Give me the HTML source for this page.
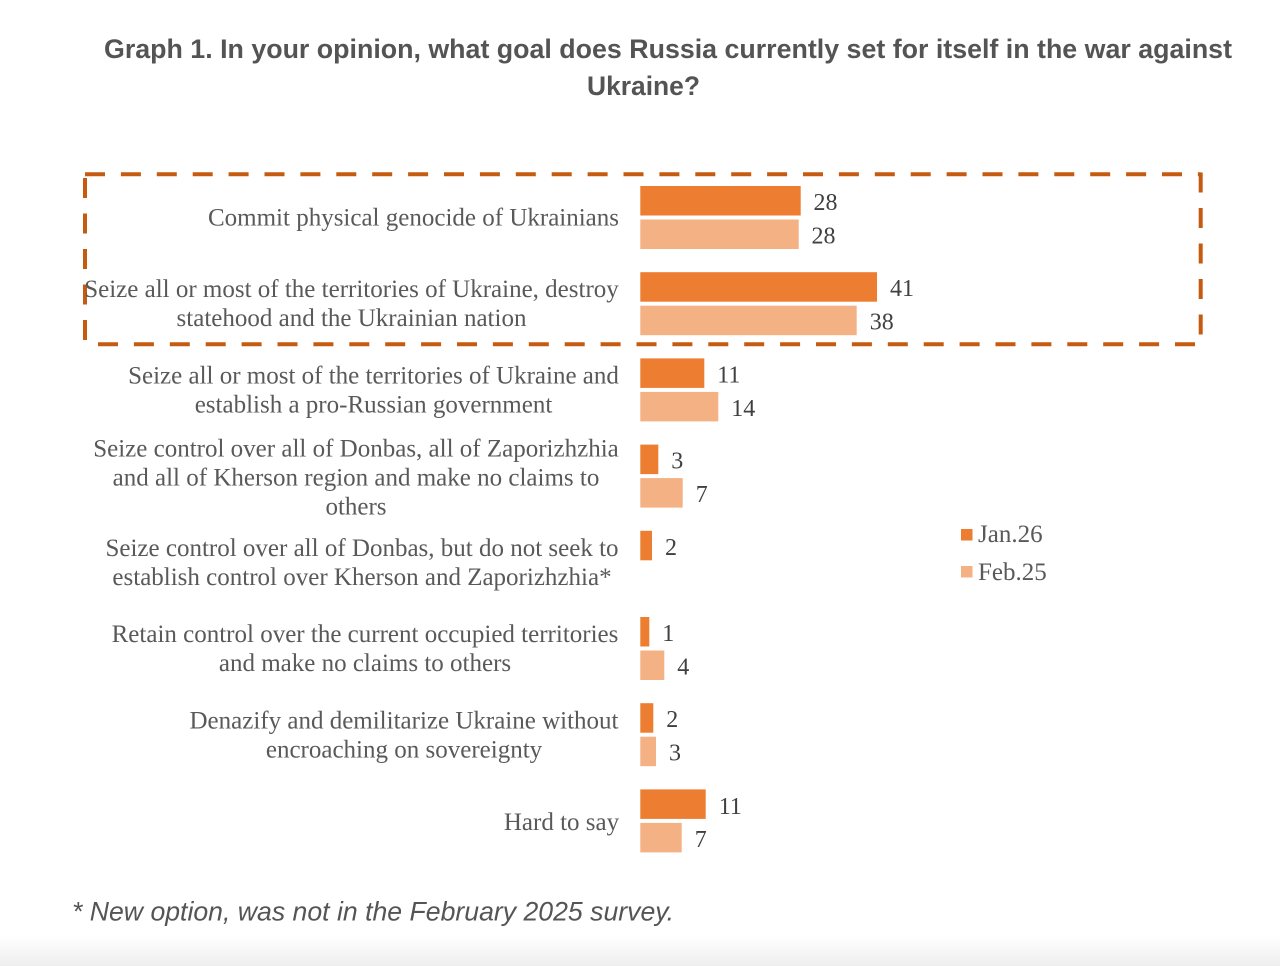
<!DOCTYPE html>
<html>
<head>
<meta charset="utf-8">
<style>
  html,body{margin:0;padding:0;background:#fff;}
  svg{display:block;}
  .cat{font-family:"Liberation Serif",serif;font-size:25px;fill:#595959;text-anchor:middle;}
  .val{font-family:"Liberation Serif",serif;font-size:24px;fill:#404040;}
  .leg{font-family:"Liberation Serif",serif;font-size:25px;fill:#595959;}
  .title{font-family:"Liberation Sans",sans-serif;font-size:27px;font-weight:bold;fill:#545454;}
  .foot{font-family:"Liberation Sans",sans-serif;font-size:26.5px;font-style:italic;fill:#555555;}
</style>
</head>
<body>
<svg width="1280" height="966" viewBox="0 0 1280 966" xmlns="http://www.w3.org/2000/svg">
  <defs>
    <linearGradient id="bg" x1="0" y1="0" x2="0" y2="1">
      <stop offset="0" stop-color="#ffffff"/>
      <stop offset="1" stop-color="#eeeeee"/>
    </linearGradient>
  </defs>
  <rect x="0" y="0" width="1280" height="966" fill="#ffffff"/>
  <rect x="0" y="936" width="1280" height="30" fill="url(#bg)"/>

  <!-- Title -->
  <text class="title" x="104" y="58" textLength="1128" lengthAdjust="spacingAndGlyphs">Graph 1. In your opinion, what goal does Russia currently set for itself in the war against</text>
  <text class="title" x="587" y="95" textLength="113" lengthAdjust="spacingAndGlyphs">Ukraine?</text>

  <!-- Dashed highlight box -->
  <g stroke="#C55A11" stroke-width="4" fill="none">
    <line x1="85" y1="174.3" x2="1200.7" y2="174.3" stroke-dasharray="20 15.9"/>
    <line x1="98" y1="344.3" x2="1200.7" y2="344.3" stroke-dasharray="20 15.9"/>
    <line x1="85" y1="178" x2="85" y2="344" stroke-dasharray="20 15.5"/>
    <line x1="1200.7" y1="172.5" x2="1200.7" y2="344" stroke-dasharray="20 15.5"/>
  </g>

  <!-- Bars: dark = Jan.26, light = Feb.25 -->
  <g>
    <rect x="640.3" y="186" width="160.4" height="29.5" fill="#ED7D31"/>
    <rect x="640.3" y="219.5" width="158.4" height="29.5" fill="#F4B183"/>
    <rect x="640.3" y="272.2" width="236.7" height="29.5" fill="#ED7D31"/>
    <rect x="640.3" y="305.7" width="216.4" height="29.5" fill="#F4B183"/>
    <rect x="640.3" y="358.4" width="64" height="29.5" fill="#ED7D31"/>
    <rect x="640.3" y="391.9" width="78" height="29.5" fill="#F4B183"/>
    <rect x="640.3" y="444.6" width="18" height="29.5" fill="#ED7D31"/>
    <rect x="640.3" y="478.1" width="42.4" height="29.5" fill="#F4B183"/>
    <rect x="640.3" y="530.8" width="11.7" height="29.5" fill="#ED7D31"/>
    <rect x="640.3" y="617" width="9" height="29.5" fill="#ED7D31"/>
    <rect x="640.3" y="650.5" width="24" height="29.5" fill="#F4B183"/>
    <rect x="640.3" y="703.2" width="13" height="29.5" fill="#ED7D31"/>
    <rect x="640.3" y="736.7" width="15.7" height="29.5" fill="#F4B183"/>
    <rect x="640.3" y="789.4" width="65.4" height="29.5" fill="#ED7D31"/>
    <rect x="640.3" y="822.9" width="41.4" height="29.5" fill="#F4B183"/>
  </g>

  <!-- Value labels -->
  <g class="val">
    <text x="813.5" y="210">28</text>
    <text x="811.5" y="243.4">28</text>
    <text x="890" y="296.2">41</text>
    <text x="869.7" y="329.6">38</text>
    <text x="717.3" y="382.4">11</text>
    <text x="731.3" y="415.8">14</text>
    <text x="671.3" y="468.6">3</text>
    <text x="695.7" y="502">7</text>
    <text x="665" y="554.8">2</text>
    <text x="662.3" y="641">1</text>
    <text x="677.3" y="674.4">4</text>
    <text x="666.3" y="727.2">2</text>
    <text x="669" y="760.6">3</text>
    <text x="718.7" y="813.8">11</text>
    <text x="694.7" y="846.8">7</text>
  </g>

  <!-- Category labels -->
  <g class="cat">
    <text x="413.5" y="225.3">Commit physical genocide of Ukrainians</text>

    <text x="351.5" y="297">Seize all or most of the territories of Ukraine, destroy</text>
    <text x="351.5" y="326">statehood and the Ukrainian nation</text>

    <text x="373.5" y="383.5">Seize all or most of the territories of Ukraine and</text>
    <text x="373.5" y="412.5">establish a pro-Russian government</text>

    <text x="356" y="456.5">Seize control over all of Donbas, all of Zaporizhzhia</text>
    <text x="356" y="485.5">and all of Kherson region and make no claims to</text>
    <text x="356" y="514.5">others</text>

    <text x="362" y="556">Seize control over all of Donbas, but do not seek to</text>
    <text x="362" y="585">establish control over Kherson and Zaporizhzhia*</text>

    <text x="365" y="642.2">Retain control over the current occupied territories</text>
    <text x="365" y="671.2">and make no claims to others</text>

    <text x="404" y="728.4">Denazify and demilitarize Ukraine without</text>
    <text x="404" y="757.4">encroaching on sovereignty</text>

    <text x="561.5" y="830">Hard to say</text>
  </g>

  <!-- Legend -->
  <rect x="961" y="529" width="11.5" height="11.5" fill="#ED7D31"/>
  <text class="leg" x="978" y="542">Jan.26</text>
  <rect x="961" y="566" width="11.5" height="11.5" fill="#F4B183"/>
  <text class="leg" x="978" y="580">Feb.25</text>

  <!-- Footnote -->
  <text class="foot" x="72" y="920.5" textLength="602" lengthAdjust="spacingAndGlyphs">* New option, was not in the February 2025 survey.</text>
</svg>
</body>
</html>
